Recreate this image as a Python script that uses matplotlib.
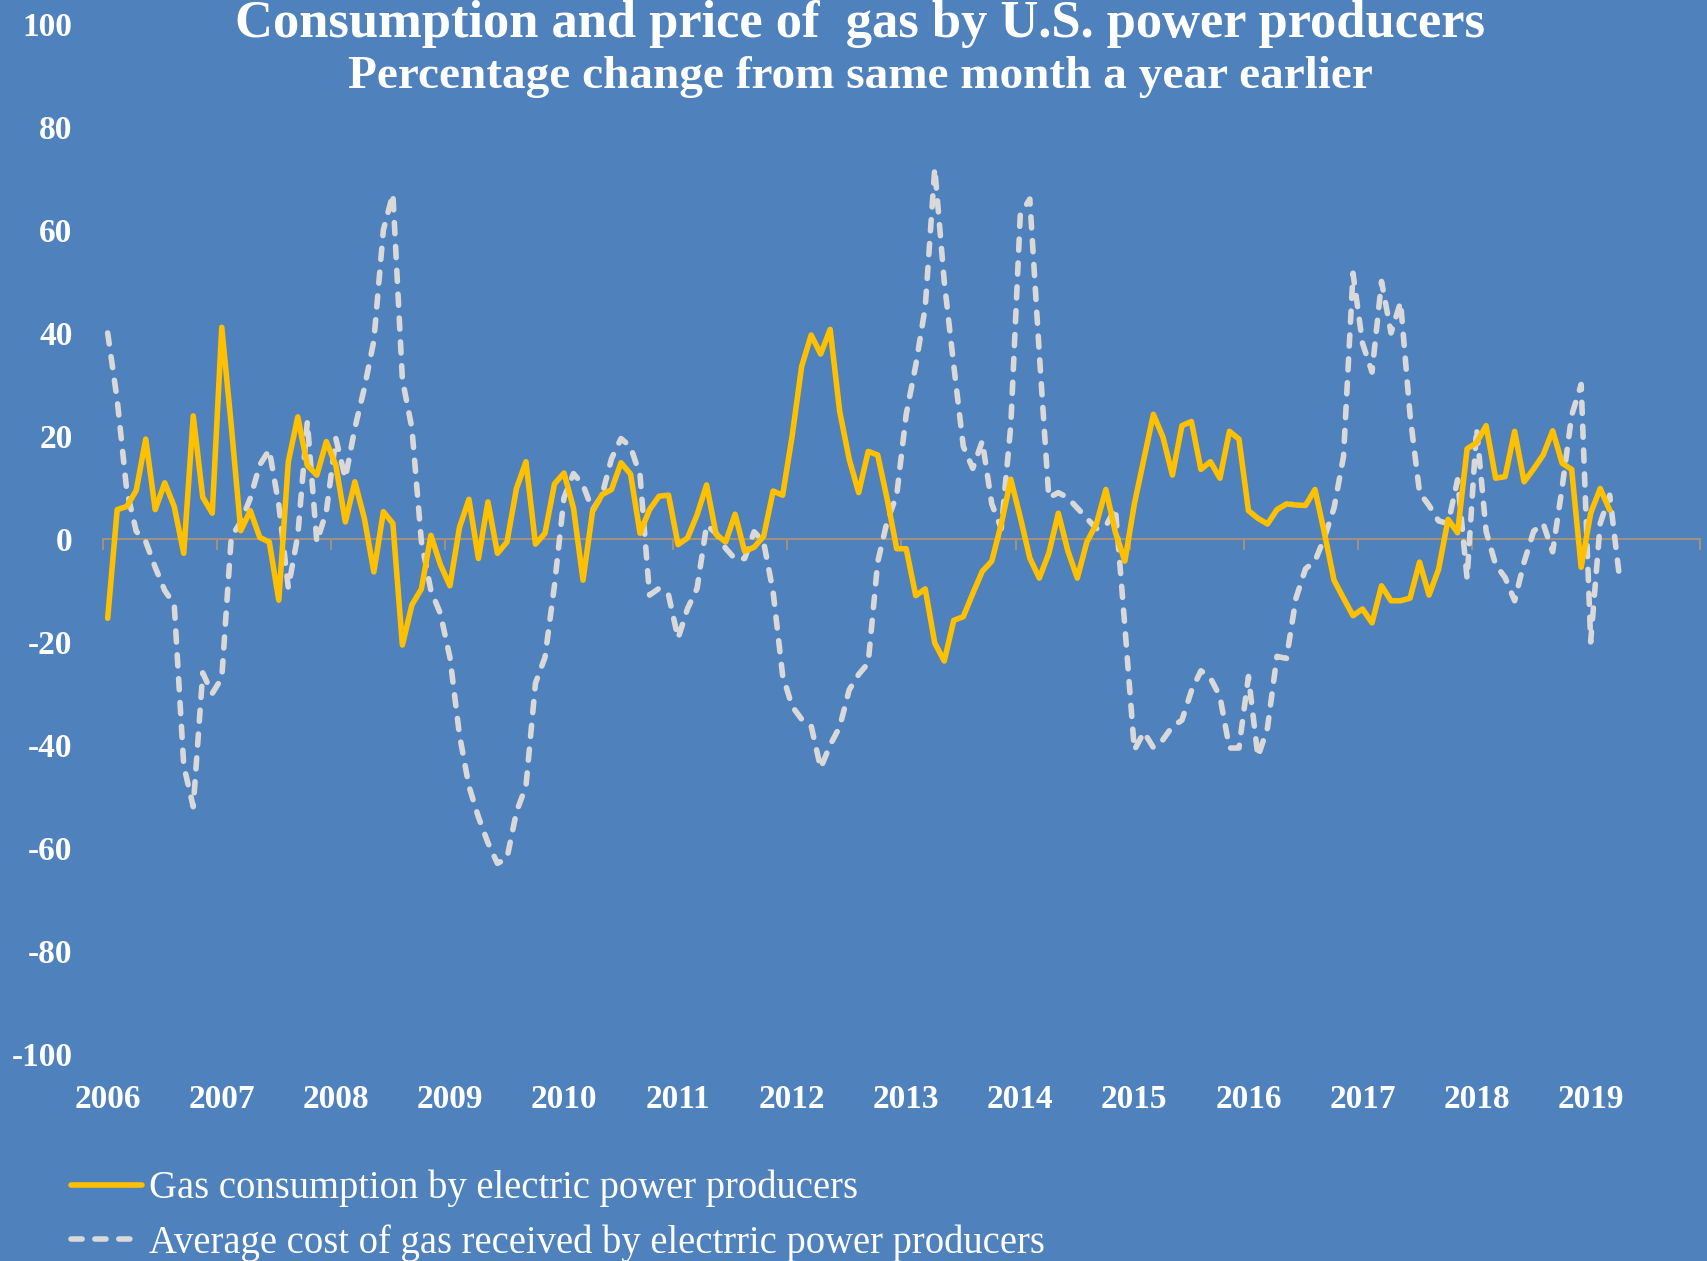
import numpy as np
import matplotlib
matplotlib.use("Agg")
import matplotlib.pyplot as plt

plt.rcParams['font.family'] = ['Liberation Serif', 'DejaVu Serif']

# monthly year-on-year % change, Jan 2006 onwards
years = list(range(2006, 2020))
consumption = [
    -15.4, 5.7, 6.3, 9.4, 19.4, 5.7, 10.9, 6.3, -2.8, 23.9, 8.1, 5.0,
    41.1, 22.0, 1.6, 5.5, 0.3, -0.6, -11.9, 15.0, 23.7, 14.3, 12.4, 18.9,
    14.3, 3.3, 11.1, 4.0, -6.4, 5.3, 3.0, -20.6, -12.8, -9.7, 0.7, -5.0,
    -9.1, 2.2, 7.7, -3.8, 7.2, -2.8, -0.6, 9.8, 15.0, -1.0, 1.1, 10.7,
    12.8, 6.0, -8.0, 5.3, 8.6, 9.6, 14.8, 12.6, 1.1, 5.7, 8.3, 8.5,
    -1.1, 0.2, 4.7, 10.5, 0.9, -0.6, 4.8, -2.4, -1.6, 0.5, 9.3, 8.5,
    20.0, 33.5, 39.6, 35.9, 40.7, 24.8, 15.5, 9.0, 17.0, 16.3, 7.7, -1.9,
    -1.9, -11.0, -9.7, -20.2, -23.7, -15.8, -15.1, -10.6, -6.3, -4.3, 2.9, 11.6,
    4.2, -3.7, -7.6, -2.8, 5.0, -2.3, -7.6, -0.6, 2.9, 9.6, 1.3, -4.3,
    6.8, 15.5, 24.2, 19.8, 12.4, 22.0, 22.8, 13.5, 15.0, 11.8, 20.9, 19.4,
    5.5, 4.0, 2.9, 5.7, 6.8, 6.6, 6.5, 9.6, 1.1, -8.0, -11.5, -14.9,
    -13.6, -16.3, -9.1, -12.0, -12.0, -11.5, -4.5, -10.9, -5.9, 3.8, 1.2, 17.5,
    18.7, 22.0, 11.8, 12.1, 20.9, 11.1, 13.6, 16.3, 21.0, 14.7, 13.5, -5.5,
    5.0, 9.8, 5.6,
]
cost = [
    40.0, 27.0, 9.5, 1.5, -0.5, -5.5, -10.0, -12.7, -44.0, -52.0, -26.0, -30.0,
    -27.0, 0.4, 3.3, 7.9, 14.4, 17.3, 6.6, -9.5, 0.7, 22.8, -0.6, 5.3,
    19.5, 11.8, 21.5, 29.3, 38.5, 60.0, 67.0, 31.0, 21.5, -0.5, -10.0, -14.5,
    -23.0, -38.0, -48.0, -54.0, -59.0, -63.0, -62.0, -53.0, -48.0, -28.0, -23.0, -9.0,
    8.0, 12.7, 10.5, 5.6, 8.5, 15.6, 19.5, 17.9, 12.4, -10.9, -9.6, -10.9,
    -19.3, -13.5, -9.6, 2.7, 1.1, -1.8, -3.9, -3.8, 1.4, -0.6, -10.3, -26.5,
    -32.5, -35.0, -36.3, -44.5, -40.0, -36.5, -29.3, -26.3, -24.1, -4.5, 3.5, 8.5,
    24.2, 33.7, 45.0, 72.0, 50.0, 33.7, 18.0, 13.7, 19.0, 6.8, 2.0, 22.0,
    63.0, 66.0, 36.0, 8.0, 9.0, 8.0, 6.0, 4.0, 2.0, 2.5, 6.0, -17.0,
    -41.0, -37.5, -40.5, -39.0, -36.4, -35.2, -29.5, -25.6, -27.0, -30.6, -40.6, -40.6,
    -26.7, -42.3, -36.7, -22.8, -23.2, -11.5, -5.8, -4.3, 0.3, 6.0, 16.0, 51.6,
    38.0, 32.4, 50.0, 40.0, 46.0, 24.0, 9.0, 6.5, 3.5, 3.0, 11.5, -7.7,
    21.5, 1.5, -5.0, -7.5, -12.0, -4.5, 1.5, 3.0, -2.5, 10.0, 24.0, 30.0,
    -20.0, 3.0, 8.5, -7.0,
]
yticks = list(range(-100, 101, 20))

BG = '#4f81bd'
YELLOW = '#ffc000'
GREY = '#d9d9d9'
AXIS = '#a09282'

fig = plt.figure(figsize=(17.07, 12.61), dpi=100, facecolor=BG)
ax = fig.add_axes([0.0603, 0.1642, 0.9356, 0.8168], facecolor=BG)

months = np.arange(len(consumption))
ax.plot(months, consumption, color=YELLOW, lw=4, solid_joinstyle='round',
        solid_capstyle='round',
        label='Gas consumption by electric power producers', zorder=3)
months2 = np.arange(len(cost))
ax.plot(months2, cost, color=GREY, lw=4, dashes=(2.0, 2.3),
        dash_capstyle='round', dash_joinstyle='round',
        label='Average cost of gas received by electrric power producers', zorder=2)

n_cat = 12 * len(years)
ax.set_xlim(-0.5, n_cat - 0.5)
ax.set_ylim(-100, 100)

for s in ax.spines.values():
    s.set_visible(False)

ax.set_xticks([12 * k for k in range(len(years))])
ax.set_xticklabels([str(y) for y in years], fontweight='bold')
ax.set_yticks(yticks)
ax.set_yticklabels([str(v) for v in yticks], fontweight='bold')
ax.tick_params(axis='x', length=0, pad=22, labelsize=24, labelcolor='white')
ax.tick_params(axis='y', length=0, pad=22, labelsize=24, labelcolor='white')

# horizontal axis line at zero with year tick marks
zero = ax.secondary_xaxis(0, transform=ax.transData)
zero.spines['bottom'].set_color(AXIS)
zero.spines['bottom'].set_linewidth(1.5)
zero.set_xticks([12 * k - 0.5 for k in range(len(years) + 1)])
zero.tick_params(axis='x', direction='out', length=8, width=1.5, color=AXIS,
                 labelbottom=False)

fig.text(0.504, 0.9707, 'Consumption and price of  gas by U.S. power producers',
         ha='center', va='baseline', color='white', fontsize=37.8, fontweight='bold')
fig.text(0.504, 0.9302, 'Percentage change from same month a year earlier',
         ha='center', va='baseline', color='white', fontsize=34, fontweight='bold')

fig.legend(loc='upper left', bbox_to_anchor=(71 / 1707, 0.0722), frameon=False,
           fontsize=27.8, labelcolor='white', handlelength=1.85, handletextpad=0.18,
           labelspacing=0.43, borderpad=0, borderaxespad=0)

fig.savefig('out.png', dpi=100, facecolor=BG)
